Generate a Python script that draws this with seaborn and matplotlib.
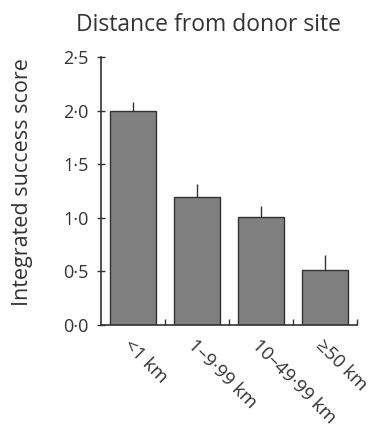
import numpy as np
import pandas as pd
import matplotlib
matplotlib.use('Agg')
import matplotlib.pyplot as plt
import seaborn as sns
from matplotlib.ticker import FuncFormatter, FixedLocator

# --- data ---
categories = ['<1 km', '1–9·99 km', '10–49·99 km', '≥50 km']
scores = [2.00, 1.19, 1.01, 0.51]
upper_err = [0.08, 0.13, 0.10, 0.14]

df = pd.DataFrame({'distance': categories, 'score': scores})

sns.set_style('white')
plt.rcParams['font.family'] = ['Open Sans', 'DejaVu Sans']

fig = plt.figure(figsize=(3.73, 4.29), dpi=100)
ax = fig.add_axes([0.271, 0.2424, 0.686, 0.6247])

sns.barplot(x='distance', y='score', data=df, color='#808080', saturation=1,
            edgecolor='#333333', linewidth=1.0, width=0.72, errorbar=None, ax=ax)
ax.errorbar(np.arange(len(categories)), scores,
            yerr=[np.zeros(len(scores)), upper_err],
            fmt='none', ecolor='#333333', elinewidth=1.0, capsize=0)

ax.set_xlim(-0.5, len(categories) - 0.5)
ax.set_ylim(0, 2.5)
ax.set_yticks([0, 0.5, 1.0, 1.5, 2.0, 2.5])
ax.yaxis.set_major_formatter(FuncFormatter(lambda v, p: f'{v:.1f}'.replace('.', '·')))

# boundary ticks on the x axis, pointing inward
ax.xaxis.set_minor_locator(FixedLocator(np.arange(len(categories)) + 0.5))
ax.tick_params(axis='x', which='minor', direction='in', length=4, width=1, color='#333333', bottom=True)
ax.tick_params(axis='x', which='major', length=0, pad=8)
ax.tick_params(axis='y', which='major', direction='inout', length=6, width=1, color='#333333',
               left=True, labelsize=13, labelcolor='#333333', pad=6)
ax.set_xticks(range(len(categories)))
ax.set_xticklabels(categories, rotation=-45, ha='left', va='top', rotation_mode='anchor',
                   fontsize=13.5, color='#333333')
for lab in ax.get_xticklabels():
    lab.set_x(lab.get_position()[0])

for side in ['top', 'right']:
    ax.spines[side].set_visible(False)
for side in ['left', 'bottom']:
    ax.spines[side].set_color('#333333')
    ax.spines[side].set_linewidth(1.2)

ax.set_xlabel('')
ax.set_ylabel('')
fig.text(0.059, 0.576, 'Integrated success score', rotation=90, ha='center', va='center',
         fontsize=15.5, color='#333333')
fig.text(0.56, 0.942, 'Distance from donor site', ha='center', va='center',
         fontsize=16.5, color='#333333')

fig.savefig('out.png', dpi=100)
